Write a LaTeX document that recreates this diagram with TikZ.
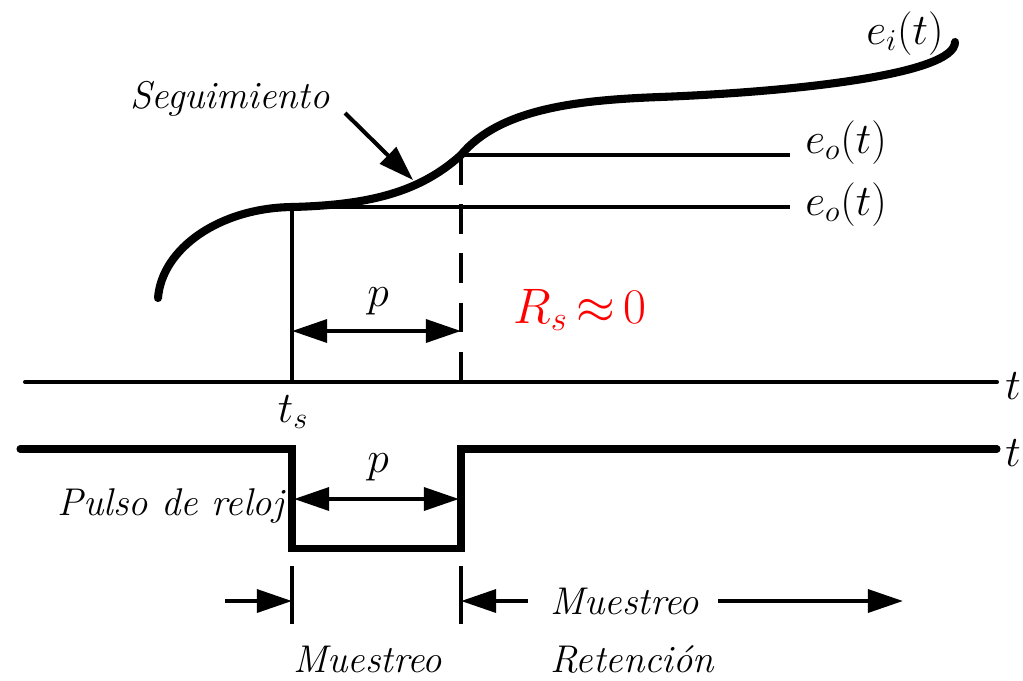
\documentclass[tikz,border=0pt]{standalone}
\usepackage{fontspec}
\usepackage{graphicx}
\usetikzlibrary{arrows.meta}
\begin{document}
\begin{tikzpicture}[x=0.02cm,y=-0.02cm,
  sline/.style={line width=2.3pt},
  curveline/.style={line width=4.6pt, line cap=round},
  clockline/.style={line width=4pt, line cap=round, line join=miter},
  dimarrow/.style={line width=2.3pt, {Triangle[length=20pt,width=13pt]}-{Triangle[length=20pt,width=13pt]}},
  tiparrow/.style={line width=2.3pt, -{Triangle[length=20pt,width=13pt]}},
  lbl/.style={inner sep=0pt, font=\fontsize{22}{26}\selectfont\itshape},
  biglbl/.style={inner sep=0pt, font=\fontsize{25}{30}\selectfont},
]
\useasboundingbox (0,0) rectangle (1023,680);

% coordinates
\coordinate (ts top) at (292,207);
\coordinate (ts axis) at (292,382);
\coordinate (tp top) at (461,155);
\coordinate (tp axis) at (461,382);
\coordinate (eo1 end) at (790,155);
\coordinate (eo2 end) at (790,207);
\coordinate (ax0) at (25,382);
\coordinate (ax1) at (997,382);

% input signal curve
\draw[curveline] (158,298) .. controls (162,248) and (220,208) .. (ts top)
  .. controls (370,205) and (420,192) .. (tp top)
  .. controls (500,108) and (580,100) .. (660,97)
  .. controls (790,92) and (955,75) .. (955,42);

% held output lines
\draw[sline] (tp top) -- (eo1 end);
\draw[sline] (ts top) -- (eo2 end);
\draw[sline] (ts top) -- (ts axis);
\draw[sline, dash pattern=on 17pt off 11pt] (tp top) -- (tp axis);

% time axis
\draw[sline, line cap=round] (ax0) -- (ax1);
\node[biglbl, anchor=west] (t1) at (1005,386) {$t$};

% labels
\node[biglbl, anchor=base west] (ei) at (866,44) {$e_i(t)$};
\node[biglbl, anchor=base west] (eo1) at (805,153) {$e_o(t)$};
\node[biglbl, anchor=base west] (eo2) at (805,215) {$e_o(t)$};
\node[lbl] (seg) at (230,99) {Seguimiento};
\coordinate (seg tip) at (413,180);
\draw[tiparrow] (345,113) -- (seg tip);

% p over sampling interval
\draw[dimarrow] (292,331) -- (461,331);
\node[biglbl] (p1) at (378,301) {$p$};
\node[inner sep=0pt, text=red, font=\fontsize{25}{30}\selectfont, anchor=base] (rs) at (580,323) {\scalebox{1.14}{${R_s}\,{\approx}\,{0}$}};
\node[biglbl] (ts) at (293,412) {$t_s$};

% clock pulse
\coordinate (c0) at (20,449);
\coordinate (c1) at (292,449);
\coordinate (c2) at (292,548);
\coordinate (c3) at (461,548);
\coordinate (c4) at (461,449);
\coordinate (c5) at (997,449);
\draw[clockline] (c0) -- (c1) -- (c2) -- (c3) -- (c4) -- (c5);
\node[biglbl, anchor=west] (t2) at (1005,453) {$t$};
\draw[dimarrow] (294,499) -- (459,499);
\node[biglbl] (p2) at (378,467) {$p$};
\node[lbl, anchor=east] (pulso) at (284,506) {Pulso de reloj};

% bottom marks
\coordinate (m1a) at (292,566);
\coordinate (m1b) at (292,624);
\coordinate (m2a) at (461,566);
\coordinate (m2b) at (461,624);
\draw[sline] (m1a) -- (m1b);
\draw[sline] (m2a) -- (m2b);
\coordinate (l0) at (225,601);
\coordinate (l1) at (292,601);
\draw[tiparrow] (l0) -- (l1);
\coordinate (r0) at (528,601);
\coordinate (r1) at (461,601);
\draw[tiparrow] (r0) -- (r1);
\node[lbl] (mu1) at (625,601) {Muestreo};
\coordinate (q0) at (718,601);
\coordinate (q1) at (903,601);
\draw[tiparrow] (q0) -- (q1);
\node[lbl] (mu2) at (368,659) {Muestreo};
\node[lbl] (ret) at (632,659) {Retención};
\end{tikzpicture}
\end{document}
